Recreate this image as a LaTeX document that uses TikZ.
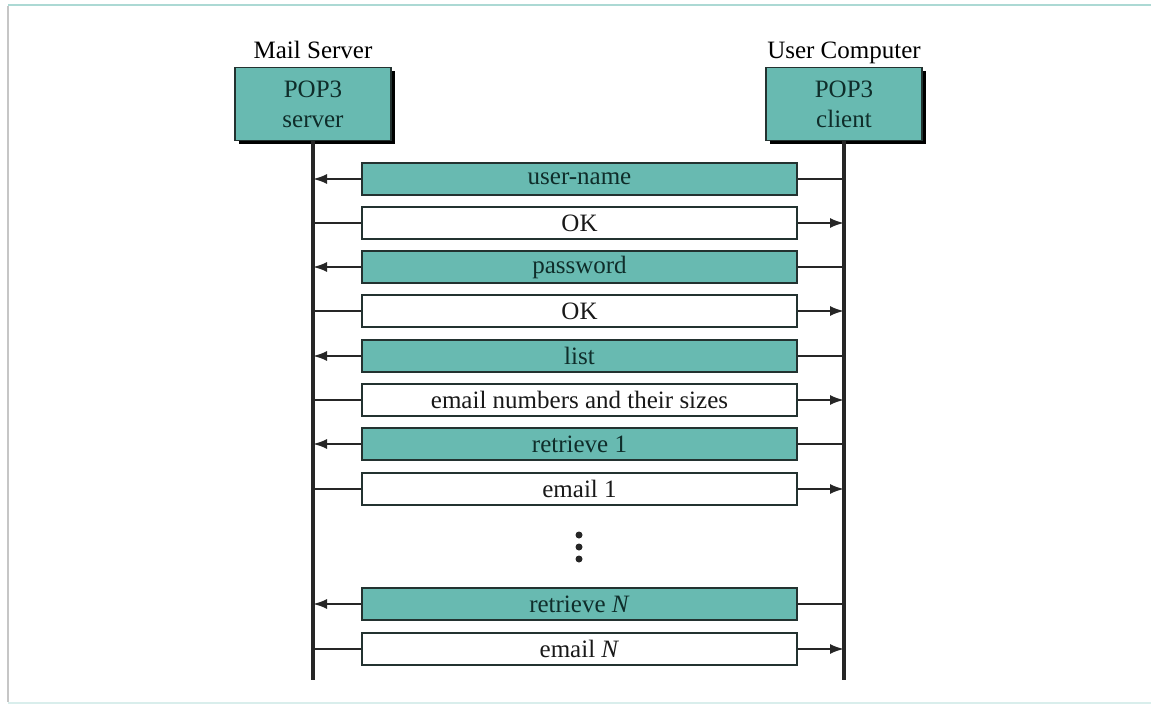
\documentclass[tikz,border=0pt]{standalone}
\usepackage{fontspec}
\setmainfont{Liberation Serif}
\usetikzlibrary{positioning,shadows,arrows.meta,calc}
\definecolor{popteal}{RGB}{104,186,177}
\definecolor{popedge}{RGB}{35,50,48}
\definecolor{popink}{RGB}{15,45,42}

\begin{document}
\begin{tikzpicture}[
			x = 1pt, y = -1pt,
			every node/.style = {font=\fontsize{25}{30}\selectfont},
			headbox/.style = {draw=popedge, line width=1.5pt, fill=popteal, text=popink,
				minimum width=156pt, minimum height=73pt, align=center,
				drop shadow={fill=black, opacity=1, shadow xshift=4pt, shadow yshift=-4pt}},
			sidelbl/.style = {text height=2ex, text depth=.6ex, inner sep=2pt},
			msgbar/.style = {draw=popedge, line width=2pt, minimum width=435pt,
				minimum height=32pt, inner sep=0pt},
			request/.style = {msgbar, fill=popteal, text=popink},
			reply/.style = {msgbar, fill=white, text=black!90},
			life/.style = {line width=3.5pt, black!85},
			link/.style = {line width=2pt, black!85},
			tip/.style = {link, -{Latex[length=14pt,width=10pt]}}
			]
			\useasboundingbox (0,0) rectangle (1151,706);

			% frame of the slide
			\draw[gray!45, line width=2pt] (8,6) -- (8,702);
			\draw[popteal!55, line width=2.5pt] (8,5) -- (1151,5);
			\draw[popteal!25, line width=2pt] (8,703) -- (1151,703);

			% the two sides
			\node[headbox] (srv) at (313,104) {POP3\\server};
			\node[headbox] (cli) at (844,104) {POP3\\client};
			\node[sidelbl, above=3pt of srv] (srvlbl) {Mail Server};
			\node[sidelbl, above=3pt of cli] (clilbl) {User Computer};

			\coordinate (srvend) at (313,680);
			\coordinate (cliend) at (844,680);
			\draw[life] (srv.south) -- (srvend);
			\draw[life] (cli.south) -- (cliend);

			% client to server
			\foreach \yy/\txt [count=\i] in {179/user-name, 267/password, 356/list, 444/retrieve 1, 604/retrieve \textit{N}}{
				\node[request] (req\i) at (579.5,\yy) {\txt};
				\draw[link] (req\i.east -| cli.south) -- (req\i.east);
				\draw[tip] (req\i.west) -- (req\i.west -| srv.south);
			}

			% server to client
			\foreach \yy/\txt [count=\i] in {223/OK, 311/OK, 400/email numbers and their sizes, 489/email 1, 649/email \textit{N}}{
				\node[reply] (rep\i) at (579.5,\yy) {\txt};
				\draw[link] (rep\i.west -| srv.south) -- (rep\i.west);
				\draw[tip] (rep\i.east) -- (rep\i.east -| cli.south);
			}

			% more messages
			\foreach \yy in {535,547,559}
				\fill[black!85] (579,\yy) circle (3.5pt);

		\end{tikzpicture}
\end{document}
